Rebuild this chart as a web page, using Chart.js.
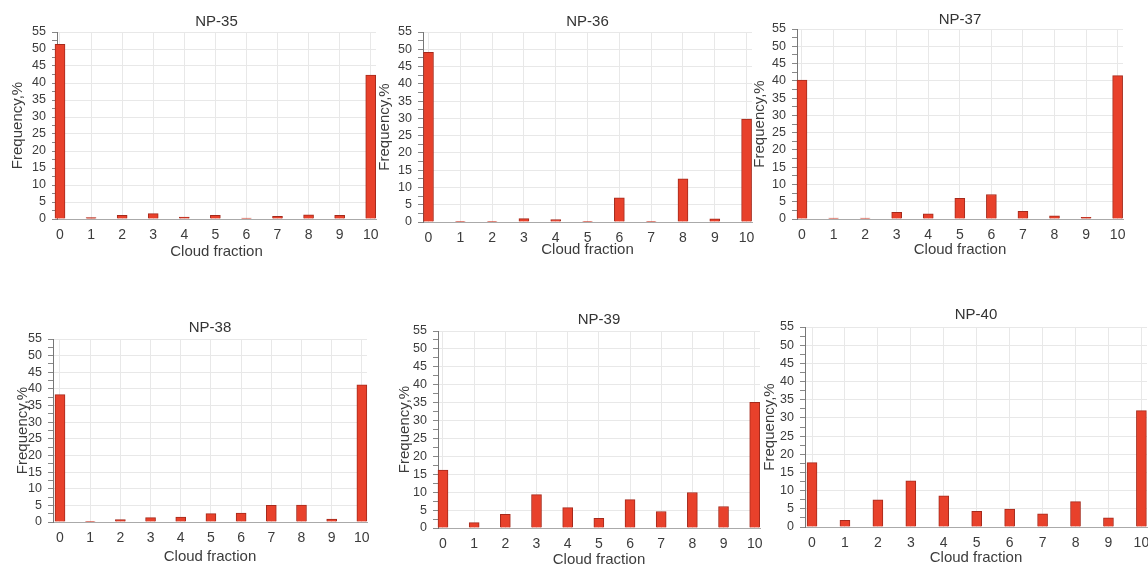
<!DOCTYPE html>
<html><head><meta charset="utf-8">
<script src="https://cdn.jsdelivr.net/npm/chart.js@4.4.1/dist/chart.umd.min.js"></script>
<style>
html,body{margin:0;padding:0;background:#fff;overflow:hidden;width:1148px;height:567px;}
.p{position:absolute;}
canvas{display:block;}
</style></head><body>
<script>
// ---- data ----
const cloudFraction = [0, 1, 2, 3, 4, 5, 6, 7, 8, 9, 10];
const stations = ['NP-35', 'NP-36', 'NP-37', 'NP-38', 'NP-39', 'NP-40'];
const np35 = [51.4, 0.4, 1.1, 1.6, 0.6, 1.1, 0.3, 0.8, 1.2, 1.1, 42.3];
const np36 = [49.1, 0.2, 0.2, 1.0, 0.7, 0.2, 7.0, 0.2, 12.5, 0.9, 29.8];
const np37 = [40.2, 0.3, 0.3, 1.9, 1.5, 6.0, 7.1, 2.2, 0.9, 0.5, 41.5];
const np38 = [38.3, 0.1, 0.7, 1.3, 1.5, 2.5, 2.7, 5.0, 5.1, 0.9, 41.2];
const np39 = [16.2, 1.5, 3.8, 9.3, 5.7, 2.7, 7.9, 4.6, 9.9, 6.0, 35.1];
const np40 = [17.7, 1.8, 7.5, 12.7, 8.6, 4.3, 4.9, 3.6, 7.0, 2.5, 32.0];
const yTicks = [0, 2.5, 5, 7.5, 10, 12.5, 15, 17.5, 20, 22.5, 25, 27.5, 30, 32.5, 35, 37.5, 40, 42.5, 45, 47.5, 50, 52.5, 55];
const series = [np35, np36, np37, np38, np39, np40];

// ---- layout (page pixel targets per panel) ----
const layout = [
  {axis: 57,  x0: 60,    x10: 371,  top: 32,  bottom: 219, titleY: 22,  yTitleX: 18,  xTitleY: 252},
  {axis: 423, x0: 428.5, x10: 747,  top: 32,  bottom: 222, titleY: 22,  yTitleX: 385, xTitleY: 250},
  {axis: 797, x0: 802,   x10: 1118, top: 29,  bottom: 219, titleY: 20,  yTitleX: 760, xTitleY: 250},
  {axis: 53,  x0: 60,    x10: 362,  top: 339, bottom: 522, titleY: 328, yTitleX: 23,  xTitleY: 557},
  {axis: 438, x0: 443,   x10: 755,  top: 331, bottom: 528, titleY: 320, yTitleX: 405, xTitleY: 560},
  {axis: 805, x0: 812,   x10: 1141, top: 327, bottom: 527, titleY: 315, yTitleX: 770, xTitleY: 558}
];

const FONT = "'Liberation Sans', Arial, Helvetica, sans-serif";
const TXT = '#3c3c3c';
const YW = 50, XH = 45, TT = 22, PR = 12, LH = 18;

series.forEach((vals, i) => {
  const L = layout[i];
  const u = (L.x10 - L.x0) / 10;
  const xMin = -(L.x0 - L.axis) / u;
  const xMax = 10.17;
  const plotRight = L.x10 + 0.17 * u;
  const cl = L.axis - YW, ct = L.top - TT;
  const cw = Math.round(plotRight - cl + PR), ch = Math.round(L.bottom - L.top + TT + XH);
  const div = document.createElement('div');
  div.className = 'p';
  div.style.left = cl + 'px';
  div.style.top = ct + 'px';
  const c = document.createElement('canvas');
  c.width = cw; c.height = ch;
  c.style.width = cw + 'px'; c.style.height = ch + 'px';
  div.appendChild(c);
  document.body.appendChild(div);

  const tpt = L.titleY - ct - LH / 2;
  const ypt = L.yTitleX - cl - LH / 2;
  const xpb = (L.bottom + XH) - L.xTitleY - LH / 2;

  new Chart(c, {
    type: 'bar',
    data: {
      datasets: [{
        data: cloudFraction.map((x, j) => ({x: x, y: vals[j]})),
        backgroundColor: '#e8412b',
        borderColor: '#a52a1c',
        borderWidth: 1,
        barThickness: 10,
        clip: false
      }]
    },
    options: {
      responsive: false,
      animation: false,
      layout: {padding: {left: 0, right: PR, top: 0, bottom: 0}},
      plugins: {
        legend: {display: false},
        tooltip: {enabled: false},
        title: {
          display: true, text: stations[i], fullSize: false, color: '#333',
          font: {family: FONT, size: 15, weight: 'normal', lineHeight: 1.2},
          padding: {top: tpt, bottom: TT - LH - tpt}
        }
      },
      scales: {
        x: {
          type: 'linear', min: xMin, max: xMax, offset: false,
          afterBuildTicks: s => { s.ticks = cloudFraction.map(v => ({value: v})); },
          afterFit: s => { s.height = XH; },
          grid: {color: '#e8e8e8', drawTicks: false, offset: false},
          border: {color: '#aaaaaa'},
          ticks: {color: TXT, font: {family: FONT, size: 14}, padding: 8, autoSkip: false, maxRotation: 0},
          title: {display: true, text: 'Cloud fraction', color: TXT,
                  font: {family: FONT, size: 15, lineHeight: 1.2}, padding: {top: 0, bottom: xpb}}
        },
        y: {
          min: 0, max: 55,
          afterBuildTicks: s => { s.ticks = yTicks.map(v => ({value: v})); },
          afterFit: s => { s.width = YW; },
          grid: {
            color: ctx => (ctx.tick && ctx.tick.value % 5 === 0) ? '#e8e8e8' : 'rgba(0,0,0,0)',
            tickColor: '#888', tickLength: 5
          },
          border: {color: '#777'},
          ticks: {color: TXT, font: {family: FONT, size: 12.5}, padding: 6, autoSkip: false,
                  callback: v => (v % 5 === 0 ? String(v) : '')},
          title: {display: true, text: 'Frequency,%', color: TXT,
                  font: {family: FONT, size: 15, lineHeight: 1.2}, padding: {top: ypt, bottom: 0}}
        }
      }
    }
  });
});
</script>
</body></html>
